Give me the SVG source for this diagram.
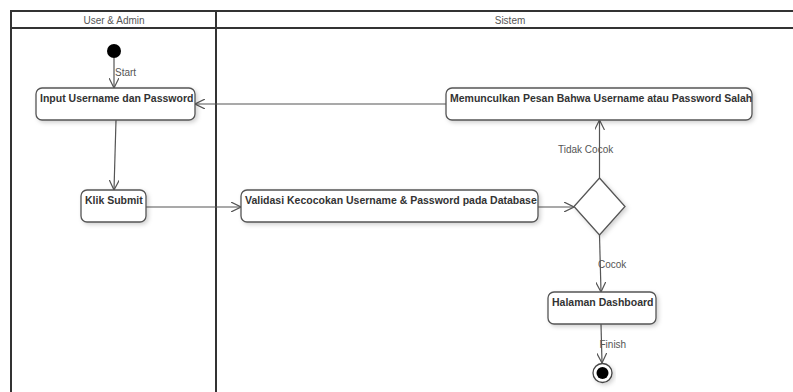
<svg xmlns="http://www.w3.org/2000/svg" width="793" height="392" viewBox="0 0 793 392">
  <defs>
    <style>
      .lane { fill: none; stroke: #333; stroke-width: 2; }
      .act { fill: #fff; stroke: #555; stroke-width: 1.3; filter: url(#shadow); }
      .actText { font-family: "Liberation Sans", Arial, sans-serif; font-size: 10.5px; font-weight: bold; fill: #333; }
      .head { font-family: "Liberation Sans", Arial, sans-serif; font-size: 10px; fill: #555; text-anchor: middle; }
      .lbl { font-family: "Liberation Sans", Arial, sans-serif; font-size: 10px; fill: #555; }
      .flow { fill: none; stroke: #555; stroke-width: 1.2; marker-end: url(#arrow); }
    </style>
    <filter id="shadow" x="-10%" y="-20%" width="130%" height="160%">
      <feDropShadow dx="2" dy="2" stdDeviation="2" flood-color="#000" flood-opacity="0.18"/>
    </filter>
    <marker id="arrow" viewBox="0 0 10 10" refX="10" refY="5" markerWidth="10" markerHeight="10" markerUnits="userSpaceOnUse" orient="auto">
      <path d="M0,0 L10,5 L0,10" fill="none" stroke="#555" stroke-width="1.2"/>
    </marker>
  </defs>

  <rect width="793" height="392" fill="#fff"/>

  <!-- swimlane frame -->
  <g id="lanes">
    <path class="lane" d="M11,400 L11,11 L800,11"/>
    <path class="lane" d="M11,28 L800,28"/>
    <path class="lane" d="M216,11 L216,400"/>
    <text class="head" x="114" y="23.5">User &amp; Admin</text>
    <text class="head" x="510" y="23.5">Sistem</text>
  </g>

  <!-- connectors -->
  <g id="connectors">
    <path class="flow" d="M114,58 L114,88"/>
    <path class="flow" d="M446,104 L195,104"/>
    <path class="flow" d="M116,120 L114,190"/>
    <path class="flow" d="M146,207 L241,207"/>
    <path class="flow" d="M538,207 L574,207"/>
    <path class="flow" d="M599.5,178 L599.5,120"/>
    <path class="flow" d="M599.5,235 L601,292"/>
    <path class="flow" d="M601,324 L602,363"/>
    <text class="lbl" x="115" y="76">Start</text>
    <text class="lbl" x="558" y="152.5">Tidak Cocok</text>
    <text class="lbl" x="598" y="268">Cocok</text>
    <text class="lbl" x="599.5" y="348">Finish</text>
  </g>

  <g id="start">
    <circle cx="114" cy="51" r="7" fill="#000"/>
  </g>

  <g id="input">
    <rect class="act" x="36" y="88" width="159" height="32" rx="6"/>
    <text class="actText" x="40" y="102">Input Username dan Password</text>
  </g>

  <g id="pesan-salah">
    <rect class="act" x="446" y="88" width="306" height="32" rx="6"/>
    <text class="actText" x="450" y="102">Memunculkan Pesan Bahwa Username atau Password Salah</text>
  </g>

  <g id="klik-submit">
    <rect class="act" x="81" y="190" width="65" height="32" rx="6"/>
    <text class="actText" x="85" y="204">Klik Submit</text>
  </g>

  <g id="validasi">
    <rect class="act" x="241" y="190" width="297" height="32" rx="6"/>
    <text class="actText" x="245" y="204">Validasi Kecocokan Username &amp; Password pada Database</text>
  </g>

  <g id="decision">
    <polygon class="act" points="599.5,178 625,206.5 599.5,235 574,206.5"/>
  </g>

  <g id="dashboard">
    <rect class="act" x="548" y="292" width="108" height="32" rx="6"/>
    <text class="actText" x="552" y="306">Halaman Dashboard</text>
  </g>

  <g id="finish">
    <circle cx="602.5" cy="373" r="9.5" fill="#fff" stroke="#444" stroke-width="1.3" filter="url(#shadow)"/>
    <circle cx="602.5" cy="373" r="6" fill="#000"/>
  </g>
</svg>
